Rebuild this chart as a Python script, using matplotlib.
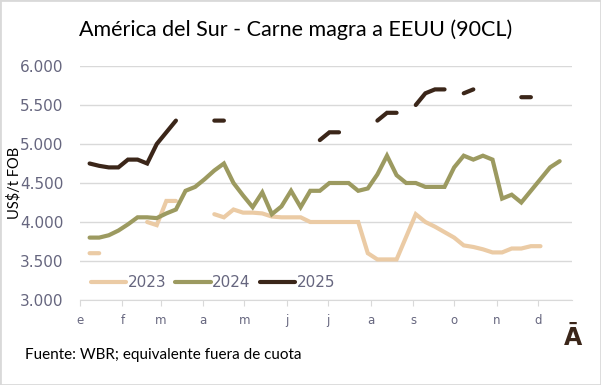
import matplotlib
matplotlib.use('Agg')
import matplotlib.pyplot as plt
from matplotlib.patches import Rectangle
from matplotlib.ticker import FuncFormatter
import numpy as np
import pandas as pd

nan = np.nan

# semanas (eje de fechas, un año calendario)
semanas = pd.date_range('2023-01-08', periods=50, freq='7D')
meses = ['e', 'f', 'm', 'a', 'm', 'j', 'j', 'a', 's', 'o', 'n', 'd']
inicio_mes = pd.date_range('2023-01-01', periods=12, freq='MS')

serie_2023 = [3600, 3600, nan, nan, nan, nan, 4000, 3960, 4270, 4270,
              nan, nan, nan, 4100, 4060, 4160, 4120, 4120, 4110, 4070,
              4060, 4060, 4060, 4000, 4000, 4000, 4000, 4000, 4000, 3600,
              3520, 3520, 3520, 3810, 4100, 4000, 3940, 3870, 3800, 3700,
              3680, 3650, 3610, 3610, 3660, 3660, 3690, 3690, nan, nan]
serie_2024 = [3800, 3800, 3830, 3890, 3970, 4060, 4060, 4050, 4110, 4160,
              4400, 4450, 4550, 4660, 4750, 4500, 4340, 4190, 4380, 4100,
              4200, 4400, 4190, 4400, 4400, 4500, 4500, 4500, 4400, 4430,
              4610, 4850, 4600, 4500, 4500, 4450, 4450, 4450, 4700, 4850,
              4800, 4850, 4800, 4300, 4350, 4250, 4400, 4550, 4700, 4780]
serie_2025 = [4750, 4720, 4700, 4700, 4800, 4800, 4750, 5000, 5150, 5300,
              nan, nan, nan, 5300, 5300, nan, nan, nan, nan, nan,
              nan, nan, nan, nan, 5050, 5150, 5150, nan, nan, nan,
              5300, 5400, 5400, nan, 5500, 5650, 5700, 5700, nan, 5650,
              5700, nan, nan, nan, nan, 5600, 5600, nan, nan, nan]

anios = ['2023', '2024', '2025']
colores = ['#EBCBA5', '#9C9A60', '#3B2619']

dias = (semanas - pd.Timestamp('2023-01-01')).days
dias_mes = (inicio_mes - pd.Timestamp('2023-01-01')).days

fig = plt.figure(figsize=(6.01, 3.85), dpi=100)
ax = fig.add_axes([80 / 601, 1 - 300 / 385, 492 / 601, 234 / 385])

for serie, anio, color in zip([serie_2023, serie_2024, serie_2025], anios, colores):
    ax.plot(dias, serie, color=color, linewidth=3, label=anio,
            solid_capstyle='round', solid_joinstyle='miter')

ax.set_xlim(0, 359)
ax.set_ylim(3000, 6000)
ax.set_yticks(np.arange(3000, 6001, 500))
ax.yaxis.set_major_formatter(FuncFormatter(lambda v, p: f'{int(v):,}'.replace(',', '.')))
ax.set_xticks(dias_mes)
ax.set_xticklabels(meses)

gris = '#66667f'
ax.grid(axis='y', color='#d9d9d9', linewidth=1)
ax.set_axisbelow(True)
for lado in ['top', 'right', 'left']:
    ax.spines[lado].set_visible(False)
ax.spines['bottom'].set_color('#d9d9d9')
ax.tick_params(axis='y', length=0, pad=12, labelsize=11, labelcolor=gris)
ax.tick_params(axis='x', length=4, color='#d9d9d9', pad=6, labelsize=8.5, labelcolor=gris)

ax.set_ylabel('US$/t FOB', fontsize=10.5, family='Lato', labelpad=-1)

ax.legend(loc='center left', bbox_to_anchor=(0.01, 0.073), ncol=3, frameon=False,
          fontsize=11, handlelength=2.3, handletextpad=0.1, columnspacing=0.6,
          labelcolor=gris, borderaxespad=0)

fig.text(296 / 601, 1 - 30 / 385, 'América del Sur - Carne magra a EEUU (90CL)',
         ha='center', va='center', fontsize=15.5, family='Lato')
fig.text(25 / 601, 1 - 355 / 385, 'Fuente: WBR; equivalente fuera de cuota',
         ha='left', va='center', fontsize=11, family='Lato')
fig.text(573 / 601, 1 - 338 / 385, 'Ā', ha='center', va='center',
         fontsize=17, fontweight='bold', color='#3B2619')

fig.patches.append(Rectangle((0, 0), 1, 1, transform=fig.transFigure,
                             fill=False, edgecolor='#d9d9d9', linewidth=2))

fig.savefig('out.png', dpi=100)
plt.close(fig)
